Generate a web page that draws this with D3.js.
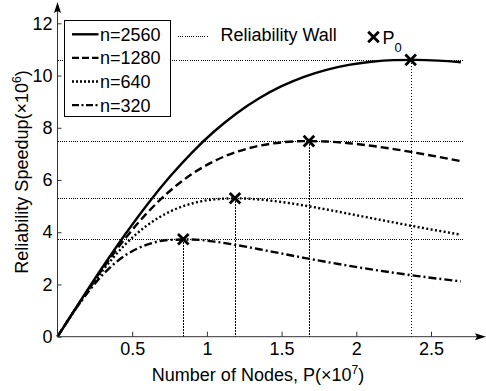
<!DOCTYPE html>
<html><head><meta charset="utf-8">
<script src="https://cdn.jsdelivr.net/npm/d3@7"></script>
<style>
html,body{margin:0;padding:0;background:#fff;}
svg{display:block;font-family:"Liberation Sans",Arial,Helvetica,sans-serif;}
</style></head>
<body>
<svg id="chart" width="486" height="391"></svg>
<script>
// ---- data (x in units of 1e7 nodes, y in units of 1e6) ----
const xs = [0,0.15,0.3,0.45,0.6,0.75,0.9,1.05,1.2,1.35,1.5,1.65,1.8,1.95,2.1,2.25,2.4,2.55,2.7];
const s2560 = [0,1.340,2.648,3.895,5.056,6.112,7.051,7.866,8.559,9.132,9.593,9.952,10.220,10.409,10.529,10.590,10.601,10.572,10.509];
const s1280 = [0,1.325,2.588,3.738,4.738,5.569,6.229,6.727,7.080,7.311,7.440,7.488,7.473,7.409,7.310,7.184,7.041,6.886,6.724];
const s640  = [0,1.317,2.516,3.510,4.264,4.783,5.101,5.258,5.298,5.255,5.157,5.025,4.872,4.708,4.541,4.375,4.213,4.056,3.906];
const s320  = [0,1.288,2.359,3.101,3.526,3.705,3.722,3.641,3.508,3.350,3.184,3.020,2.863,2.715,2.577,2.449,2.331,2.221,2.120];
const seriesNames = ["n=2560","n=1280","n=640","n=320"];
const peakP = [2.364,1.683,1.188,0.842];
const peakS = [10.60,7.49,5.30,3.73];
const xTicks = [0.5,1,1.5,2,2.5];
const yTicks = [0,2,4,6,8,10,12];
const wallEnd = 2.72;

const dashes = [null,"8,4","2,2.4","8,3,2,3"];
const legendDashes = [null,"7,3","2,2","7,2.5,2,2.5"];

const svg = d3.select("#chart");
const x = d3.scaleLinear().domain([0,2.5]).range([57.5,431]);
const y = d3.scaleLinear().domain([0,12]).range([336.7,23.3]);
const FS = 18;
const crisp = v => Math.round(v) + 0.5;

// reference (wall) lines
peakP.forEach((p,i)=>{
  svg.append("line").attr("x1",x(0)).attr("x2",x(wallEnd))
    .attr("y1",crisp(y(peakS[i]))).attr("y2",crisp(y(peakS[i])))
    .attr("stroke","#000").attr("stroke-width",1).attr("stroke-dasharray","1,1.2")
    .attr("shape-rendering","crispEdges");
  svg.append("line").attr("x1",crisp(x(p))).attr("x2",crisp(x(p)))
    .attr("y1",y(peakS[i])).attr("y2",y(0))
    .attr("stroke","#000").attr("stroke-width",1).attr("stroke-dasharray","1.5,1.5")
    .attr("shape-rendering","crispEdges");
});

// curves
const line = d3.line().x(d=>x(d[0])).y(d=>y(d[1])).curve(d3.curveMonotoneX);
[s2560,s1280,s640,s320].forEach((s,i)=>{
  svg.append("path").datum(xs.map((v,j)=>[v,s[j]]))
    .attr("d",line).attr("fill","none").attr("stroke","#000")
    .attr("stroke-width",2.4)
    .attr("stroke-dasharray",dashes[i]);
});

// markers
function cross(cx,cy,r){
  return `M${cx-r},${cy-r}L${cx+r},${cy+r}M${cx-r},${cy+r}L${cx+r},${cy-r}`;
}
peakP.forEach((p,i)=>{
  svg.append("path").attr("d",cross(x(p),y(peakS[i]),5.3))
    .attr("stroke","#000").attr("stroke-width",2.8).attr("fill","none");
});

// axes
const gy = svg.append("g").attr("transform",`translate(${x(0)},0)`)
  .call(d3.axisLeft(y).tickValues(yTicks).tickSize(-4).tickPadding(5).tickFormat(d3.format("d")));
const gx = svg.append("g").attr("transform",`translate(0,${y(0)})`)
  .call(d3.axisBottom(x).tickValues(xTicks).tickSize(-5).tickPadding(6).tickFormat(d=>String(d)));
[gx,gy].forEach(g=>{
  g.select(".domain").remove();
  g.selectAll(".tick line").attr("stroke","#333");
  g.selectAll(".tick text").attr("font-size",FS).attr("font-family","Liberation Sans, Arial, sans-serif").attr("fill","#000");
});
svg.append("line").attr("x1",x(0)).attr("x2",478).attr("y1",y(0)).attr("y2",y(0)).attr("stroke","#333").attr("stroke-width",1);
svg.append("line").attr("x1",x(0)).attr("x2",x(0)).attr("y1",y(0)).attr("y2",10).attr("stroke","#333").attr("stroke-width",1);
svg.append("path").attr("d",`M486,${y(0)}L475,${y(0)-3.5}L477,${y(0)}L475,${y(0)+3.5}Z`).attr("fill","#000");
svg.append("path").attr("d",`M${x(0)},2L${x(0)-3.5},13L${x(0)},11L${x(0)+3.5},13Z`).attr("fill","#000");

// axis titles
const xt = svg.append("text").attr("x",258).attr("y",381).attr("text-anchor","middle").attr("font-size",FS);
xt.append("tspan").text("Number of Nodes, P(\u00d710");
xt.append("tspan").attr("dy",-7).attr("font-size",12).text("7");
xt.append("tspan").attr("dy",7).text(")");

const yt = svg.append("text").attr("transform","translate(28,172) rotate(-90)").attr("text-anchor","middle").attr("font-size",FS);
yt.append("tspan").text("Reliability Speedup(\u00d710");
yt.append("tspan").attr("dy",-7).attr("font-size",12).text("6");
yt.append("tspan").attr("dy",7).text(")");

// legend box
svg.append("rect").attr("x",64.5).attr("y",20.5).attr("width",106).attr("height",96)
  .attr("fill","#fff").attr("stroke","#000").attr("stroke-width",1);
seriesNames.forEach((n,i)=>{
  const ly = 34.3 + i*23.6;
  svg.append("line").attr("x1",72).attr("x2",98.5).attr("y1",ly).attr("y2",ly)
    .attr("stroke","#000").attr("stroke-width",2.4).attr("stroke-dasharray",legendDashes[i]);
  svg.append("text").attr("x",100).attr("y",ly+6.5).attr("font-size",FS).text(n);
});

// secondary legend
svg.append("line").attr("x1",178).attr("x2",209).attr("y1",36.5).attr("y2",36.5)
  .attr("stroke","#000").attr("stroke-width",1).attr("stroke-dasharray","1,1.2")
  .attr("shape-rendering","crispEdges");
svg.append("text").attr("x",220.5).attr("y",41).attr("font-size",FS).text("Reliability Wall");
svg.append("path").attr("d",cross(373.5,37,5.3)).attr("stroke","#000").attr("stroke-width",2.8).attr("fill","none");
const pt = svg.append("text").attr("x",382.5).attr("y",44).attr("font-size",FS);
pt.append("tspan").text("P");
pt.append("tspan").attr("dy",8).attr("font-size",13).text("0");
</script>
</body></html>
